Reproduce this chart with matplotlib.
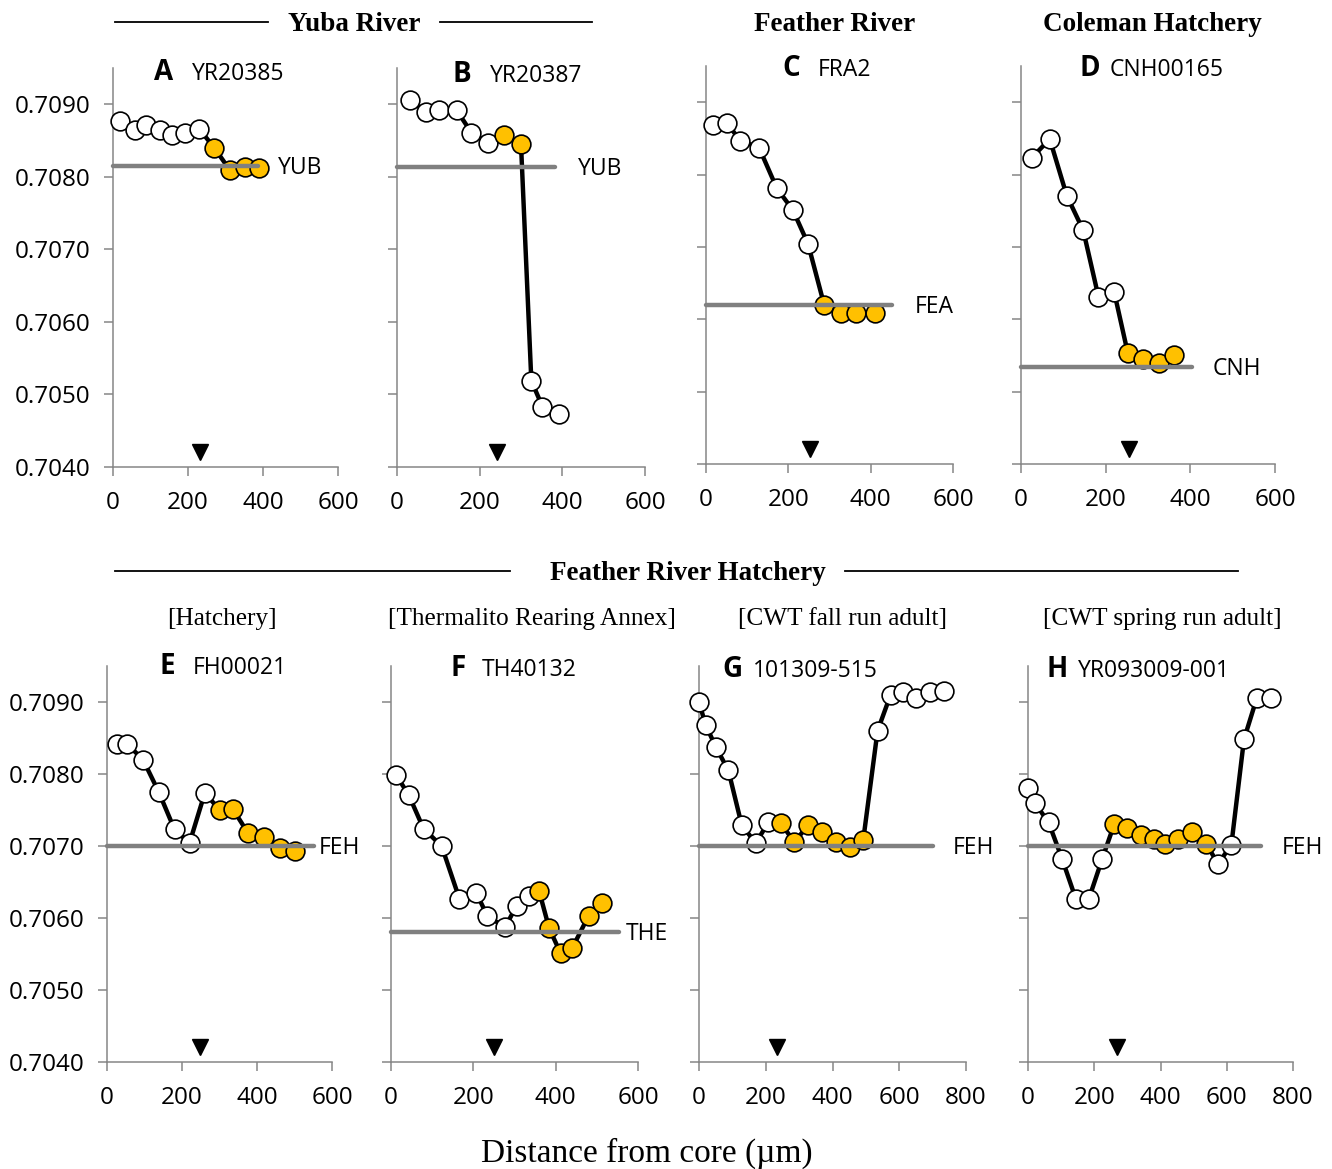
import matplotlib
matplotlib.use("Agg")
import matplotlib.pyplot as plt
from matplotlib.lines import Line2D

# ---- otolith 87Sr/86Sr transects (distance from core in µm) ----
a_dist = [19, 59, 87, 125, 158, 192, 230, 270, 312, 351, 388]
a_ratio = [0.70877, 0.70864, 0.70872, 0.70864, 0.70857, 0.70860, 0.70866,
           0.70840, 0.70809, 0.70814, 0.70812]
a_amber = [7, 8, 9, 10]

b_dist = [31, 69, 101, 144, 180, 220, 258, 300, 325, 352, 392]
b_ratio = [0.70906, 0.70890, 0.70892, 0.70892, 0.70861, 0.70847, 0.70858,
           0.70845, 0.70519, 0.70483, 0.70473]
b_amber = [6, 7]

c_dist = [17, 51, 83, 129, 172, 211, 248, 287, 328, 364, 410]
c_ratio = [0.70869, 0.70871, 0.70847, 0.70837, 0.70781, 0.70751, 0.70704,
           0.70620, 0.70609, 0.70609, 0.70608]
c_amber = [7, 8, 9, 10]

d_dist = [25, 68, 108, 147, 183, 220, 252, 289, 326, 361]
d_ratio = [0.70823, 0.70849, 0.70771, 0.70723, 0.70631, 0.70638, 0.70554,
           0.70545, 0.70539, 0.70550]
d_amber = [6, 7, 8, 9]

e_dist = [27, 53, 96, 138, 180, 220, 261, 300, 336, 376, 418, 460, 500]
e_ratio = [0.70841, 0.70842, 0.70820, 0.70775, 0.70723, 0.70704, 0.70774,
           0.70750, 0.70751, 0.70718, 0.70712, 0.70697, 0.70693]
e_amber = [7, 8, 9, 10, 11, 12]

f_dist = [13, 43, 79, 123, 166, 207, 234, 277, 305, 335, 360, 384, 412, 440,
          480, 513]
f_ratio = [0.70798, 0.70771, 0.70724, 0.70700, 0.70627, 0.70635, 0.70603,
           0.70587, 0.70617, 0.70630, 0.70637, 0.70586, 0.70551, 0.70558,
           0.70603, 0.70621]
f_amber = [10, 11, 12, 13, 14, 15]

g_dist = [0, 20, 51, 88, 128, 170, 208, 245, 286, 326, 370, 410, 452, 492,
          535, 574, 612, 650, 692, 735]
g_ratio = [0.70900, 0.70868, 0.70837, 0.70805, 0.70729, 0.70704, 0.70733,
           0.70732, 0.70705, 0.70729, 0.70720, 0.70705, 0.70698, 0.70708,
           0.70860, 0.70910, 0.70914, 0.70906, 0.70914, 0.70915]
g_amber = [7, 8, 9, 10, 11, 12, 13]

h_dist = [0, 20, 62, 103, 144, 184, 224, 260, 300, 340, 380, 415, 453, 496,
          538, 574, 614, 652, 691, 735]
h_ratio = [0.70780, 0.70760, 0.70733, 0.70682, 0.70627, 0.70627, 0.70682,
           0.70730, 0.70725, 0.70715, 0.70710, 0.70703, 0.70710, 0.70720,
           0.70703, 0.70675, 0.70702, 0.70848, 0.70906, 0.70906]
h_amber = [7, 8, 9, 10, 11, 12, 13, 14]

# source-water reference values and the span each is drawn over
site_codes = ["YUB", "YUB", "FEA", "CNH", "FEH", "THE", "FEH", "FEH"]
site_ratio = [0.70815, 0.70814, 0.70620, 0.70534, 0.70700, 0.70581,
              0.70700, 0.70700]
site_span = [387, 382, 452, 403, 553, 554, 702, 704]
site_label_x = [440, 438, 508, 453, 565, 571, 761, 767]

# position of the marker along each transect (triangle)
marker_dist = [232, 241, 253, 256, 247, 249, 235, 269]

panel_letters = ["A", "B", "C", "D", "E", "F", "G", "H"]
panel_ids = ["YR20385", "YR20387", "FRA2", "CNH00165", "FH00021", "TH40132",
             "101309-515", "YR093009-001"]
x_max = [600, 600, 600, 600, 600, 600, 800, 800]

y_ticks = [0.7040, 0.7050, 0.7060, 0.7070, 0.7080, 0.7090]

dists = [a_dist, b_dist, c_dist, d_dist, e_dist, f_dist, g_dist, h_dist]
ratios = [a_ratio, b_ratio, c_ratio, d_ratio, e_ratio, f_ratio, g_ratio, h_ratio]
ambers = [a_amber, b_amber, c_amber, d_amber, e_amber, f_amber, g_amber, h_amber]

# ---- figure layout (pixel boxes: left, right, top, bottom) ----
W, H = 1332, 1169
fig = plt.figure(figsize=(W / 100, H / 100), dpi=100)

boxes = [(113, 338, 68, 467), (397, 645, 68, 467), (706, 953, 66, 464),
         (1021, 1275, 66, 464), (107, 332, 666, 1062), (391, 638, 666, 1062),
         (699, 966, 666, 1062), (1028, 1293, 666, 1062)]

# title positions: letter centre x, id left x, baseline y
title_pos = [(164, 192, 80), (462, 490, 82), (791, 818, 76), (1090, 1110, 76),
             (167, 193, 674), (458, 482, 676), (732, 753, 677), (1057, 1078, 677)]

SANS = "Open Sans"
SERIF = "Liberation Serif"
GREY = "#868686"
AMBER = "#FFC000"


def fx(x):
    return x / W


def fy(y):
    return 1 - y / H


for i in range(8):
    l, r, t, b = boxes[i]
    ax = fig.add_axes([fx(l), fy(b), (r - l) / W, (b - t) / H])
    ax.set_xlim(0, x_max[i])
    ax.set_ylim(0.7040, 0.7095)
    for side in ("top", "right"):
        ax.spines[side].set_visible(False)
    for side in ("left", "bottom"):
        ax.spines[side].set_color(GREY)
        ax.spines[side].set_linewidth(1.1)
    ax.set_xticks(list(range(0, x_max[i] + 1, 200)))
    ax.set_yticks(y_ticks)
    ax.tick_params(direction="out", length=6.5, width=1.1, color=GREY,
                   labelsize=17.5, pad=10)
    ax.tick_params(axis="x", pad=11)
    for lab in ax.get_xticklabels() + ax.get_yticklabels():
        lab.set_fontfamily(SANS)
    if i in (0, 4):
        ax.set_yticklabels([f"{v:.4f}" for v in y_ticks])
    else:
        ax.set_yticklabels([])
    ax.patch.set_alpha(0)

    xs, ys = dists[i], ratios[i]
    amb = set(ambers[i])
    ax.plot(xs, ys, color="black", lw=3.2, zorder=2, clip_on=False)
    wx = [x for k, x in enumerate(xs) if k not in amb]
    wy = [y for k, y in enumerate(ys) if k not in amb]
    ox = [xs[k] for k in sorted(amb)]
    oy = [ys[k] for k in sorted(amb)]
    ax.plot(wx, wy, "o", ms=13.5, mfc="white", mec="black", mew=1.2,
            zorder=3, clip_on=False)
    ax.plot(ox, oy, "o", ms=13.5, mfc=AMBER, mec="black", mew=1.2,
            zorder=3, clip_on=False)

    # reference line for the rearing-site water
    ax.plot([0, site_span[i]], [site_ratio[i]] * 2, color="#808080", lw=3.2,
            solid_capstyle="round", zorder=4, clip_on=False)
    ax.annotate(site_codes[i], (site_label_x[i], site_ratio[i]),
                xytext=(0, -6), textcoords="offset points", va="baseline",
                ha="left", fontsize=16.5, family=SANS, annotation_clip=False)

    ax.plot([marker_dist[i]], [0.70421], "v", color="black", ms=12,
            zorder=5, clip_on=False)

    lx, idx, by = title_pos[i]
    fig.text(fx(lx), fy(by), panel_letters[i], ha="center", va="baseline",
             fontsize=20, fontweight="bold", family=SANS)
    fig.text(fx(idx), fy(by), panel_ids[i], ha="left", va="baseline",
             fontsize=16.5, family=SANS)

# ---- group headings ----
def header(text, cx, base_y):
    fig.text(fx(cx), fy(base_y), text, ha="center", va="baseline",
             fontsize=19.5, fontweight="bold", family=SERIF)


def rule(x1, x2, y):
    fig.add_artist(Line2D([fx(x1), fx(x2)], [fy(y), fy(y)], color="black",
                          lw=1.3))


header("Yuba River", 354, 31)
rule(115, 268, 21.5)
rule(440, 592, 21.5)
header("Feather River", 835, 31)
header("Coleman Hatchery", 1152, 31)
header("Feather River Hatchery", 688, 580)
rule(115, 510, 571)
rule(845, 1238, 571)

sub_labels = ["[Hatchery]", "[Thermalito Rearing Annex]",
              "[CWT fall run adult]", "[CWT spring run adult]"]
sub_x = [222, 532, 842, 1162]
for s, cx in zip(sub_labels, sub_x):
    fig.text(fx(cx), fy(625), s, ha="center", va="baseline", fontsize=18.2,
             family=SERIF)

fig.text(fx(647), fy(1162), "Distance from core (µm)", ha="center",
         va="baseline", fontsize=24, family=SERIF)

fig.savefig("out.png", dpi=100)
